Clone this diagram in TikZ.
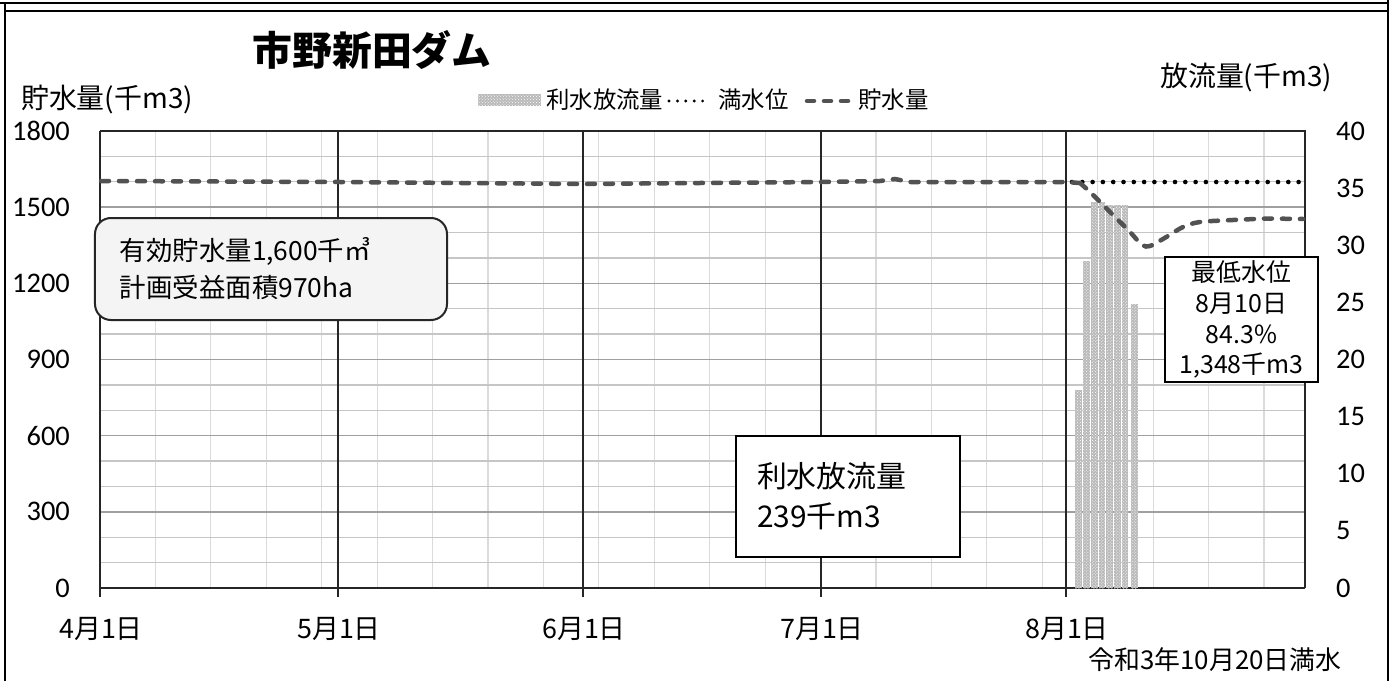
\documentclass[tikz,border=0pt]{standalone}
\usepackage{fontspec}
\usetikzlibrary{patterns}
\setmainfont{Noto Sans CJK JP}
\newfontfamily\numf{Carlito}
\begin{document}
\begin{tikzpicture}[x=1bp,y=-1bp,
  minorv/.style={gray!28,line width=1.2bp},
  minorh/.style={gray!45,line width=1.4bp},
  majorh/.style={gray!75,line width=1.6bp},
  monthline/.style={black!85,line width=1.6bp},
  frameline/.style={black,line width=2.2bp},
  storage/.style={black!68,line width=4.5bp,dash pattern=on 8bp off 10bp,line cap=round},
  fullwater/.style={black,line width=4.6bp,dash pattern=on 0bp off 10.3bp,line cap=round},
  barfill/.style={fill=gray!55},
  bardots/.style={pattern=crosshatch dots,pattern color=white},
  ytick/.style={font=\numf\fontsize{28.5}{32}\selectfont,inner sep=0pt},
  xtick/.style={font=\fontsize{27}{30}\selectfont,inner sep=0pt},
  legtext/.style={font=\fontsize{23.5}{26}\selectfont,inner sep=0pt,anchor=west},
  axtitle/.style={font=\fontsize{28}{30}\selectfont,inner sep=0pt},
  infobox/.style={draw=black!85,line width=2bp,rounded corners=16bp,fill=gray!9,
     minimum width=352bp,minimum height=102bp,text width=302bp,align=left,
     font=\fontsize{26.5}{37}\selectfont,inner sep=0pt},
  sumbox/.style={draw=black,line width=2bp,fill=white,minimum width=224bp,minimum height=121bp,
     text width=182bp,align=left,font=\fontsize{30}{40}\selectfont,inner sep=0pt},
  lowbox/.style={draw=black,line width=1.6bp,fill=white,minimum width=153bp,minimum height=125bp,
     align=center,font=\fontsize{25}{31}\selectfont,inner sep=0pt}
]
\useasboundingbox (0,0) rectangle (1399,681);
\fill[white] (0,0) rectangle (1399,681);
% outer frame
\draw[frameline] (0,3) -- (1388,3);
\draw[frameline] (5,11) -- (1388,11);
\draw[frameline] (5,3) -- (5,681);
\draw[frameline] (1388,0) -- (1388,681);
% weekly vertical grid
\foreach \j in {1,...,21}{
  \pgfmathsetmacro\xx{100+55.426*\j}
  \draw[minorv] (\xx,131) -- (\xx,588);
}
% horizontal grid
\foreach \k in {1,...,17}{
  \pgfmathsetmacro\yy{588-\k*25.3889}
  \pgfmathtruncatemacro\rr{mod(\k,3)}
  \ifnum\rr=0
    \draw[majorh] (100,\yy) -- (1305,\yy);
  \else
    \draw[minorh] (100,\yy) -- (1305,\yy);
  \fi
}
% month lines
\foreach \xx in {338,583,821,1066}{
  \draw[monthline] (\xx,131) -- (\xx,597);
}
% plot frame
\draw[monthline] (100,131) -- (1305,131) -- (1305,588);
\draw[monthline] (100,131) -- (100,597);
\draw[monthline] (100,588) -- (1305,588);
% bars
\foreach \cx/\v in {1078.5/17.3,1086.5/28.6,1094.5/33.8,1102/33.8,1109.5/33.5,1117.5/33.5,1125/33.5,1134.5/24.9}{
  \pgfmathsetmacro\yt{588-\v*11.425}
  \fill[barfill] (\cx-3.2,\yt) rectangle (\cx+3.2,588);
  \fill[bardots] (\cx-3.2,\yt) rectangle (\cx+3.2,588);
}
% full water level (dotted)
\coordinate (fw0) at (1072,182);
\coordinate (fw1) at (1303,182);
\draw[fullwater] (fw0) -- (fw1);
% storage (dashed)
\coordinate (st0) at (101,181);
\coordinate (st1) at (1303,219);
\draw[storage] (st0) -- (340,182) -- (583,184) -- (700,183) -- (821,182) -- (880,181) -- (895,179)
  -- (910,182) -- (1000,182) -- (1066,182) -- (1080,183)
  plot[smooth,tension=0.5] coordinates {(1080,183) (1090,192) (1110,212) (1130,232) (1142,245) (1150,246) (1163,239) (1183,227) (1200,222) (1233,220) (1267,218.5)}
  -- (st1);
% title and axis titles
\node[font=\bfseries\fontsize{40}{46}\selectfont,inner sep=0pt] (title) at (372,50) {市野新田ダム};
\node[axtitle,anchor=west] (ytitle) at (21,100) {貯水量(千m3)};
\node[axtitle,anchor=west] (y2title) at (1160,78) {放流量(千m3)};
% legend
\fill[barfill] (478,94) rectangle (541,106);
\fill[bardots] (478,94) rectangle (541,106);
\node[legtext] (leg1) at (546,100) {利水放流量};
\coordinate (ld0) at (669,101);
\coordinate (ld1) at (711,101);
\draw[fullwater,line width=3.2bp,dash pattern=on 0bp off 8.4bp] (ld0) -- (ld1);
\node[legtext] (leg2) at (718,100) {満水位};
\coordinate (ls0) at (807,101);
\coordinate (ls1) at (848,101);
\draw[storage,dash pattern=on 7bp off 10bp] (ls0) -- (ls1);
\node[legtext] (leg3) at (858,100) {貯水量};
% left axis labels
\foreach \v/\lab in {0/0,300/300,600/600,900/900,1200/1200,1500/1500,1800/1800}{
  \pgfmathsetmacro\yy{588-\v*0.253889}
  \node[ytick,anchor=east] at (70,\yy) {\lab};
}
% right axis labels
\foreach \v in {0,5,...,40}{
  \pgfmathsetmacro\yy{588-\v*11.425}
  \node[ytick,anchor=west] at (1336,\yy) {\v};
}
% x labels
\node[xtick] (m4) at (101,629) {4月1日};
\node[xtick] (m5) at (339,629) {5月1日};
\node[xtick] (m6) at (584,629) {6月1日};
\node[xtick] (m7) at (822,629) {7月1日};
\node[xtick] (m8) at (1067,629) {8月1日};
\node[font=\fontsize{26}{30}\selectfont,inner sep=0pt] (full) at (1215,660) {令和3年10月20日満水};
% boxes
\node[infobox] (info) at (271,269) {有効貯水量1,600千㎥\\計画受益面積970ha};
\node[sumbox] (sum) at (848,496.5) {利水放流量\\239千m3};
\node[lowbox] (low) at (1241.5,319.5) {最低水位\\8月10日\\84.3\%\\1,348千m3};
\end{tikzpicture}
\end{document}
